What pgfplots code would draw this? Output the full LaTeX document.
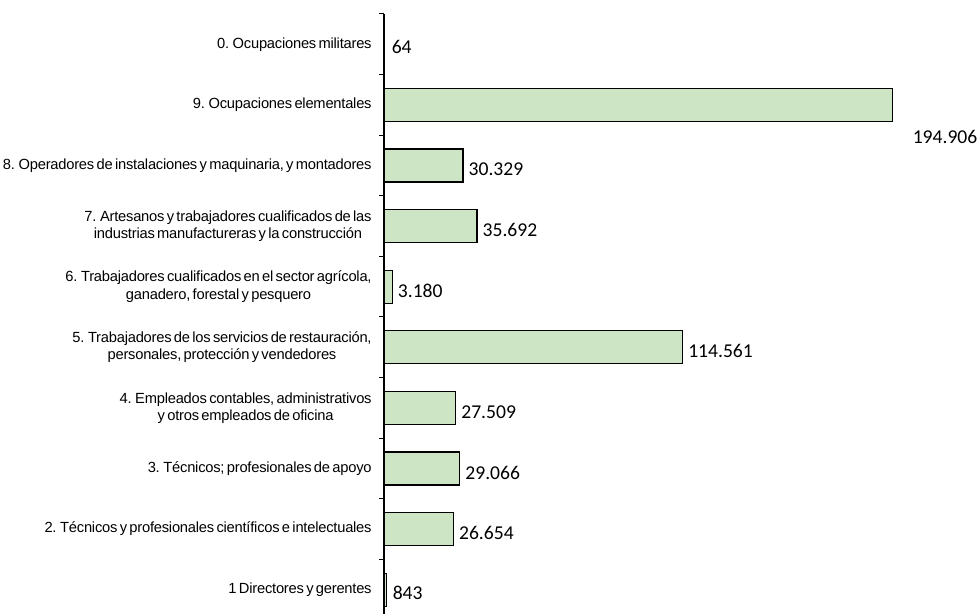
\documentclass[border=0pt]{standalone}
\usepackage{fontspec}
\setmainfont{Liberation Sans}[WordSpace=0.6, LetterSpace=-1.5]
\newfontfamily\calib{Carlito}
\usepackage{pgfplots}
\pgfplotsset{compat=1.18}
\usepackage{pgfplotstable}
\definecolor{barfill}{RGB}{205,228,197}
\pgfplotstableread{
y x lab dx dy
0 843 843 3 -1.5
1 26654 26.654 2.5 -2
2 29066 29.066 2.5 -2
3 27509 27.509 2.5 -2
4 114561 114.561 2.5 -2
5 3180 3.180 2.5 -2
6 35692 35.692 2.5 -2
7 30329 30.329 2.5 -2
8 194906 194.906 10 -16
9 64 64 3.5 -1.5
}\datatable
\begin{document}
\begin{tikzpicture}
\useasboundingbox (0,0) rectangle (489pt,307pt);
\begin{axis}[
  at={(192pt,-3pt)}, anchor=south west,
  scale only axis, width=286.8pt, height=303pt,
  xmin=0, xmax=220000, ymin=-0.5, ymax=9.5,
  clip=false,
  axis x line=none, axis y line=left,
  axis line style={-, black, line width=0.6pt},
  ytick={0,...,9},
  yticklabels={
    {1 Directores y gerentes},
    {2. Técnicos y profesionales científicos e intelectuales},
    {3. Técnicos; profesionales de apoyo},
    {4. Empleados contables, administrativos\\y otros empleados de oficina},
    {5. Trabajadores de los servicios de restauración,\\personales, protección y vendedores},
    {6. Trabajadores cualificados en el sector agrícola,\\ganadero, forestal y pesquero},
    {7. Artesanos y trabajadores cualificados de las\\industrias manufactureras y la construcción},
    {8. Operadores de instalaciones y maquinaria, y montadores},
    {9. Ocupaciones elementales},
    {0. Ocupaciones militares}},
  major tick length=0pt,
  minor ytick={-0.5,0.5,...,9.5},
  minor tick length=2.5pt,
  tick align=outside,
  tick style={black, line width=0.5pt},
  yticklabel style={font=\fontsize{7.35}{8.6}\selectfont, align=center, inner sep=0pt, anchor=east, xshift=-6pt},
]
\addplot[xbar, bar width=16.5pt, fill=barfill, draw=black, line width=0.6pt,
  nodes near coords, point meta=explicit symbolic,
  visualization depends on={\thisrow{dx}\as\dx},
  visualization depends on={\thisrow{dy}\as\dy},
  every node near coord/.append style={anchor=west, inner sep=0pt, xshift=\dx pt, yshift=\dy pt, font=\calib\fontsize{9.8}{11}\selectfont, black}]
  table[x=x, y=y, meta=lab]{\datatable};
\end{axis}
\end{tikzpicture}
\end{document}
